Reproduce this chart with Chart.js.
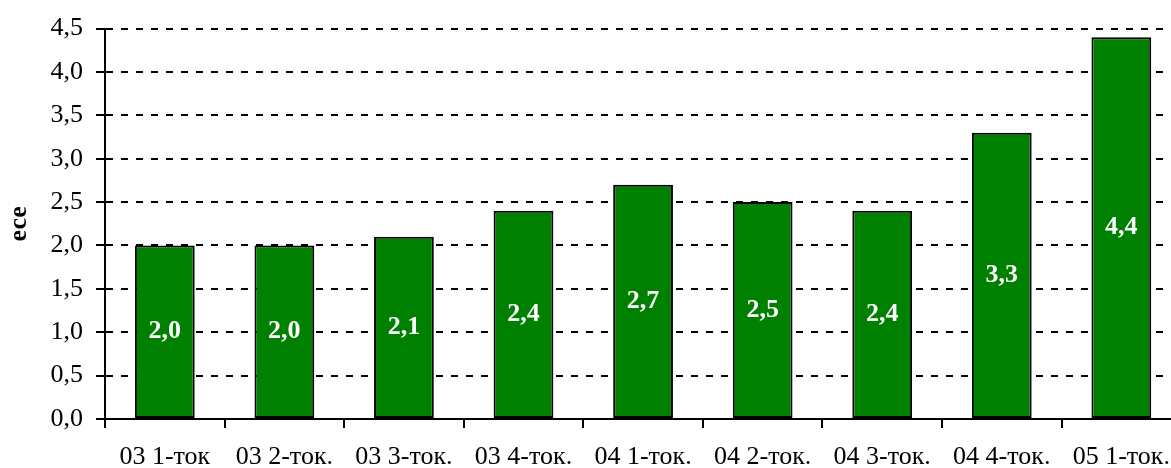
<!DOCTYPE html>
<html>
<head>
<meta charset="utf-8">
<script src="https://cdn.jsdelivr.net/npm/chart.js@4"></script>
<style>
html,body{margin:0;padding:0;overflow:hidden;background:#fff;width:1171px;height:468px;}
#wrap{width:1184px;height:468px;position:relative;}
</style>
</head>
<body>
<div id="wrap"><canvas id="c"></canvas></div>
<script>
const categories = ["03 1-ток", "03 2-ток.", "03 3-ток.", "03 4-ток.", "04 1-ток.", "04 2-ток.", "04 3-ток.", "04 4-ток.", "05 1-ток."];
const values = [2.0, 2.0, 2.1, 2.4, 2.7, 2.5, 2.4, 3.3, 4.4];
const yTicks = [0, 0.5, 1.0, 1.5, 2.0, 2.5, 3.0, 3.5, 4.0, 4.5];
const axisTitle = "есе";

const fmt = v => Number(v).toFixed(1).replace('.', ',');
const FONT = "'Liberation Serif', 'Times New Roman', serif";

const labelPlugin = {
  id: 'barLabels',
  afterDatasetsDraw(chart) {
    const ctx = chart.ctx;
    const meta = chart.getDatasetMeta(0);
    ctx.save();
    ctx.fillStyle = '#fff';
    ctx.font = 'bold 26px ' + FONT;
    ctx.textAlign = 'center';
    ctx.textBaseline = 'middle';
    meta.data.forEach((bar, i) => {
      const y = (bar.y + bar.base) / 2;
      ctx.fillText(fmt(values[i]), bar.x, y);
    });
    ctx.restore();
  }
};

new Chart(document.getElementById('c'), {
  type: 'bar',
  data: {
    labels: categories,
    datasets: [{
      data: values,
      backgroundColor: '#008000',
      borderColor: '#000',
      borderWidth: 2,
      borderSkipped: false,
      barPercentage: 0.5,
      categoryPercentage: 1.0
    }]
  },
  options: {
    responsive: true,
    maintainAspectRatio: false,
    animation: false,
    devicePixelRatio: 1,
    layout: { padding: { top: 27, right: 0, left: 0, bottom: 0 } },
    plugins: { legend: { display: false }, tooltip: { enabled: false } },
    scales: {
      x: {
        offset: true,
        grid: { display: true, offset: true, drawOnChartArea: false, drawTicks: true, tickLength: 9, color: '#000', lineWidth: 2 },
        border: { display: true, color: '#000', width: 2 },
        ticks: { color: '#000', font: { family: FONT, size: 26 }, padding: 14, maxRotation: 0, autoSkip: false },
        afterFit(s) { s.height = 49; }
      },
      y: {
        min: 0, max: 4.5,
        afterBuildTicks(s) { s.ticks = yTicks.map(v => ({ value: v })); },
        grid: { color: '#000', lineWidth: 2, tickLength: 9, tickColor: '#000', tickWidth: 2, tickBorderDash: [] },
        border: { display: true, color: '#000', width: 2, dash: [7, 8] },
        ticks: { color: '#000', font: { family: FONT, size: 26 }, padding: 13, callback: v => fmt(v) },
        title: { display: true, text: axisTitle, color: '#000', font: { family: FONT, size: 26, weight: 'bold' }, padding: { top: 4, bottom: 0 } },
        afterFit(s) { s.width = 105; }
      }
    }
  },
  plugins: [labelPlugin]
});
</script>
</body>
</html>
